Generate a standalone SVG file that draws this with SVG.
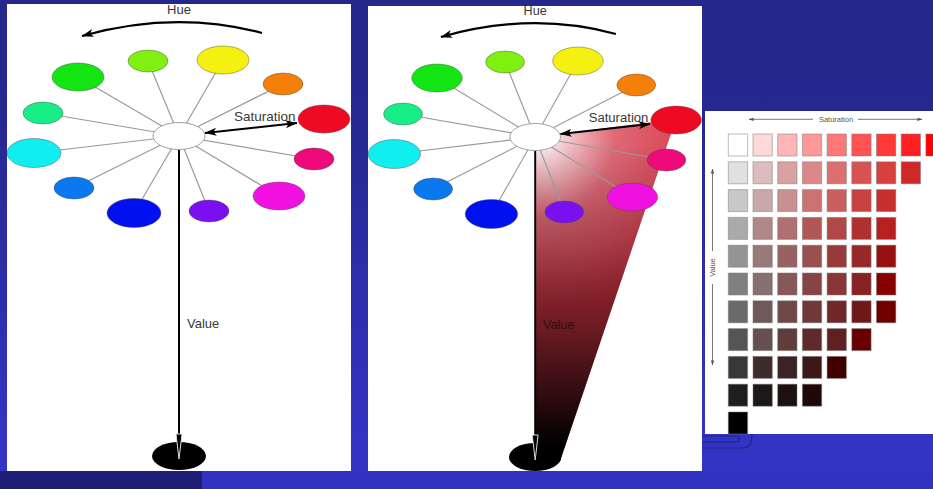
<svg xmlns="http://www.w3.org/2000/svg" width="933" height="489" viewBox="0 0 933 489">
<style>
.txt{font-family:"Liberation Sans",Arial,sans-serif;fill:#383838}
.spoke{stroke:#9a9a9a;stroke-width:1.2;fill:none}
.ell{stroke:#4a4a4a;stroke-opacity:0.55;stroke-width:0.8}
.sq{stroke:#7a7a7a;stroke-opacity:0.5;stroke-width:1}
.ax{stroke:#555;stroke-width:0.8;fill:none}
</style>
<defs>
<linearGradient id="bg" x1="0" y1="0" x2="0" y2="1">
<stop offset="0" stop-color="#25278c"/>
<stop offset="0.25" stop-color="#26288f"/>
<stop offset="0.9" stop-color="#3333c4"/>
</linearGradient>
<radialGradient id="wedgeSat" gradientUnits="userSpaceOnUse" cx="538" cy="140" r="170">
<stop offset="0" stop-color="#ffffff"/>
<stop offset="0.14" stop-color="#f6d0d4"/>
<stop offset="0.45" stop-color="#e06a78"/>
<stop offset="1" stop-color="#d83444"/>
</radialGradient>
<linearGradient id="wedgeVal" gradientUnits="userSpaceOnUse" x1="0" y1="140" x2="0" y2="445">
<stop offset="0" stop-color="#000" stop-opacity="0"/>
<stop offset="0.36" stop-color="#000" stop-opacity="0.25"/>
<stop offset="0.62" stop-color="#000" stop-opacity="0.5"/>
<stop offset="0.85" stop-color="#000" stop-opacity="0.8"/>
<stop offset="1" stop-color="#000" stop-opacity="1"/>
</linearGradient>
<marker id="ah" viewBox="0 0 12 8" refX="11.5" refY="4" markerWidth="12" markerHeight="8" markerUnits="userSpaceOnUse" orient="auto-start-reverse">
<path d="M0,0 L12,4 L0,8 L3,4 Z" fill="#000"/>
</marker>
<marker id="ahs" viewBox="0 0 6 4" refX="5.5" refY="2" markerWidth="5" markerHeight="3.4" markerUnits="userSpaceOnUse" orient="auto-start-reverse">
<path d="M0,0 L6,2 L0,4 Z" fill="#555"/>
</marker>
</defs>

<!-- background -->
<rect x="0" y="0" width="933" height="489" fill="url(#bg)"/>
<rect x="0" y="471" width="202" height="18" fill="#1f1f78"/>
<rect x="202" y="471" width="731" height="18" fill="#3232c2"/>
<path d="M702 448 H743 Q752 448 752 434 M702 436 H736 Q739.5 436 739.5 439 Q739.5 442 736 442 H702" fill="none" stroke="#22227e" stroke-width="1.2"/>

<!-- panels -->
<rect id="panel-left" x="7" y="4" width="344" height="467" fill="#fff"/>
<rect id="panel-middle" x="368" y="6" width="334" height="465" fill="#fff"/>
<rect id="panel-right" x="705" y="111" width="228" height="323" fill="#fff"/>

<!-- ===== LEFT WHEEL ===== -->
<g id="left-wheel">
<g id="left-connectors">
<line class="spoke" x1="179" y1="136" x2="78" y2="77"/>
<line class="spoke" x1="179" y1="136" x2="148" y2="61"/>
<line class="spoke" x1="179" y1="136" x2="223" y2="60"/>
<line class="spoke" x1="179" y1="136" x2="283" y2="84"/>
<line class="spoke" x1="179" y1="136" x2="314" y2="159"/>
<line class="spoke" x1="179" y1="136" x2="279" y2="196"/>
<line class="spoke" x1="179" y1="136" x2="209" y2="211"/>
<line class="spoke" x1="179" y1="136" x2="134" y2="213"/>
<line class="spoke" x1="179" y1="136" x2="74" y2="188"/>
<line class="spoke" x1="179" y1="136" x2="34" y2="153"/>
<line class="spoke" x1="179" y1="136" x2="43" y2="113"/>
<path id="left-hue-arrow" d="M262,33 Q175,10 82,36" fill="none" stroke="#000" stroke-width="2.2" marker-end="url(#ah)"/>
<line id="left-value-line" x1="179" y1="149" x2="179" y2="440" stroke="#000" stroke-width="2"/>
</g>
<g id="left-green"><ellipse class="ell" cx="78" cy="77" rx="26" ry="14" fill="#12e512"/></g>
<g id="left-chartreuse"><ellipse class="ell" cx="148" cy="61" rx="20" ry="11" fill="#80f010"/></g>
<g id="left-yellow"><ellipse class="ell" cx="223" cy="60" rx="26" ry="14" fill="#f4f010"/></g>
<g id="left-orange"><ellipse class="ell" cx="283" cy="84" rx="20" ry="11" fill="#f58008"/></g>
<g id="left-red"><ellipse class="ell" cx="324" cy="119" rx="26" ry="14" fill="#ee0a22"/></g>
<g id="left-pink"><ellipse class="ell" cx="314" cy="159" rx="20" ry="11" fill="#ee0a78"/></g>
<g id="left-magenta"><ellipse class="ell" cx="279" cy="196" rx="26" ry="14" fill="#f010e0"/></g>
<g id="left-violet"><ellipse class="ell" cx="209" cy="211" rx="20" ry="11" fill="#7a10f0"/></g>
<g id="left-blue"><ellipse class="ell" cx="134" cy="213" rx="27" ry="14.5" fill="#0010ee"/></g>
<g id="left-azure"><ellipse class="ell" cx="74" cy="188" rx="20" ry="11" fill="#0a78ee"/></g>
<g id="left-cyan"><ellipse class="ell" cx="34" cy="153" rx="27" ry="14.5" fill="#10eef0"/></g>
<g id="left-spring"><ellipse class="ell" cx="43" cy="113" rx="20" ry="11" fill="#18ee88"/></g>
<g id="left-center"><ellipse cx="179" cy="136" rx="26" ry="13.5" fill="#fff" stroke="#a0a0a0" stroke-width="1"/></g>
<g id="left-black"><ellipse cx="179" cy="456" rx="27" ry="14" fill="#000"/></g>
<line id="left-sat-arrow" x1="205" y1="133" x2="297" y2="123" stroke="#000" stroke-width="2" marker-start="url(#ah)" marker-end="url(#ah)"/>
<polygon points="176,434 182,434 179,459" fill="#000" stroke="#ddd" stroke-width="1"/>
<text class="txt" x="179" y="14" font-size="13" text-anchor="middle">Hue</text>
<text class="txt" x="234" y="121" font-size="13.5">Saturation</text>
<text class="txt" x="187" y="328" font-size="13">Value</text>
</g>

<!-- ===== MIDDLE WHEEL ===== -->
<g id="middle-wedge">
<path d="M535.2,137 L676,119 L561.4,457 L535.2,457 Z" fill="url(#wedgeSat)"/>
<path d="M535.2,137 L676,119 L561.4,457 L535.2,457 Z" fill="url(#wedgeVal)"/>
</g>
<g id="middle-wheel" transform="matrix(0.972 0 0 1 361.2 1)">
<g id="middle-connectors">
<line class="spoke" x1="179" y1="136" x2="78" y2="77"/>
<line class="spoke" x1="179" y1="136" x2="148" y2="61"/>
<line class="spoke" x1="179" y1="136" x2="223" y2="60"/>
<line class="spoke" x1="179" y1="136" x2="283" y2="84"/>
<line class="spoke" x1="179" y1="136" x2="314" y2="159" stroke="#6a4a4e"/>
<line class="spoke" x1="179" y1="136" x2="279" y2="196" stroke="#6a4a4e"/>
<line class="spoke" x1="179" y1="136" x2="209" y2="211" stroke="#6a4a4e"/>
<line class="spoke" x1="179" y1="136" x2="134" y2="213"/>
<line class="spoke" x1="179" y1="136" x2="74" y2="188"/>
<line class="spoke" x1="179" y1="136" x2="34" y2="153"/>
<line class="spoke" x1="179" y1="136" x2="43" y2="113"/>
<path id="middle-hue-arrow" d="M262,33 Q175,10 82,36" fill="none" stroke="#000" stroke-width="2.2" marker-end="url(#ah)"/>
<line id="middle-value-line" x1="179" y1="149" x2="179" y2="440" stroke="#000" stroke-width="2"/>
</g>
<g id="middle-green"><ellipse class="ell" cx="78" cy="77" rx="26" ry="14" fill="#12e512"/></g>
<g id="middle-chartreuse"><ellipse class="ell" cx="148" cy="61" rx="20" ry="11" fill="#80f010"/></g>
<g id="middle-yellow"><ellipse class="ell" cx="223" cy="60" rx="26" ry="14" fill="#f4f010"/></g>
<g id="middle-orange"><ellipse class="ell" cx="283" cy="84" rx="20" ry="11" fill="#f58008"/></g>
<g id="middle-red"><ellipse class="ell" cx="324" cy="119" rx="26" ry="14" fill="#ee0a22"/></g>
<g id="middle-pink"><ellipse class="ell" cx="314" cy="159" rx="20" ry="11" fill="#ee0a78"/></g>
<g id="middle-magenta"><ellipse class="ell" cx="279" cy="196" rx="26" ry="14" fill="#f010e0"/></g>
<g id="middle-violet"><ellipse class="ell" cx="209" cy="211" rx="20" ry="11" fill="#7a10f0"/></g>
<g id="middle-blue"><ellipse class="ell" cx="134" cy="213" rx="27" ry="14.5" fill="#0010ee"/></g>
<g id="middle-azure"><ellipse class="ell" cx="74" cy="188" rx="20" ry="11" fill="#0a78ee"/></g>
<g id="middle-cyan"><ellipse class="ell" cx="34" cy="153" rx="27" ry="14.5" fill="#10eef0"/></g>
<g id="middle-spring"><ellipse class="ell" cx="43" cy="113" rx="20" ry="11" fill="#18ee88"/></g>
<g id="middle-center"><ellipse cx="179" cy="136" rx="26" ry="13.5" fill="#fff" stroke="#a0a0a0" stroke-width="1"/></g>
<g id="middle-black"><ellipse cx="179" cy="456" rx="27" ry="14" fill="#000"/></g>
<line id="middle-sat-arrow" x1="205" y1="133" x2="297" y2="123" stroke="#000" stroke-width="2" marker-start="url(#ah)" marker-end="url(#ah)"/>
<polygon points="176,434 182,434 179,459" fill="#000" stroke="#ddd" stroke-width="1"/>
<text class="txt" x="179" y="14" font-size="13" text-anchor="middle">Hue</text>
<text class="txt" x="234" y="121" font-size="13.5">Saturation</text>
<text class="txt" x="187" y="328" font-size="13" style="fill:#2a1012">Value</text>
</g>

<!-- ===== RIGHT CHART ===== -->
<g id="right-chart">
<line class="ax" x1="749" y1="119.3" x2="813" y2="119.3" marker-start="url(#ahs)"/>
<line class="ax" x1="858" y1="119.3" x2="922" y2="119.3" marker-end="url(#ahs)"/>
<text class="txt" x="836" y="121.5" font-size="7.5" text-anchor="middle" style="fill:#555">Saturation</text>
<line class="ax" x1="712.5" y1="169" x2="712.5" y2="251" marker-start="url(#ahs)"/>
<line class="ax" x1="712.5" y1="284" x2="712.5" y2="365" marker-end="url(#ahs)"/>
<text class="txt" transform="translate(715,267.5) rotate(-90)" font-size="7.5" text-anchor="middle" style="fill:#555">Value</text>
<g id="swatches">
<rect class="sq" x="728.3" y="134" width="19.3" height="22" fill="#ffffff"/>
<rect class="sq" x="753" y="134" width="19.3" height="22" fill="#ffd8d8"/>
<rect class="sq" x="777.7" y="134" width="19.3" height="22" fill="#ffb6b6"/>
<rect class="sq" x="802.4" y="134" width="19.3" height="22" fill="#ff9898"/>
<rect class="sq" x="827.1" y="134" width="19.3" height="22" fill="#ff7878"/>
<rect class="sq" x="851.8" y="134" width="19.3" height="22" fill="#ff5252"/>
<rect class="sq" x="876.5" y="134" width="19.3" height="22" fill="#ff3838"/>
<rect class="sq" x="901.2" y="134" width="19.3" height="22" fill="#ff2020"/>
<rect class="sq" x="925.9" y="134" width="19.3" height="22" fill="#ff0000"/>

<rect class="sq" x="728.3" y="161.8" width="19.3" height="22" fill="#e0e0e0"/>
<rect class="sq" x="753" y="161.8" width="19.3" height="22" fill="#dcbcbc"/>
<rect class="sq" x="777.7" y="161.8" width="19.3" height="22" fill="#d8a2a2"/>
<rect class="sq" x="802.4" y="161.8" width="19.3" height="22" fill="#dc8888"/>
<rect class="sq" x="827.1" y="161.8" width="19.3" height="22" fill="#dc7070"/>
<rect class="sq" x="851.8" y="161.8" width="19.3" height="22" fill="#d85252"/>
<rect class="sq" x="876.5" y="161.8" width="19.3" height="22" fill="#d84040"/>
<rect class="sq" x="901.2" y="161.8" width="19.3" height="22" fill="#d02828"/>

<rect class="sq" x="728.3" y="189.6" width="19.3" height="22" fill="#c8c8c8"/>
<rect class="sq" x="753" y="189.6" width="19.3" height="22" fill="#c8a8a8"/>
<rect class="sq" x="777.7" y="189.6" width="19.3" height="22" fill="#c89090"/>
<rect class="sq" x="802.4" y="189.6" width="19.3" height="22" fill="#cc7272"/>
<rect class="sq" x="827.1" y="189.6" width="19.3" height="22" fill="#c86060"/>
<rect class="sq" x="851.8" y="189.6" width="19.3" height="22" fill="#c84242"/>
<rect class="sq" x="876.5" y="189.6" width="19.3" height="22" fill="#c83030"/>

<rect class="sq" x="728.3" y="217.4" width="19.3" height="22" fill="#aaaaaa"/>
<rect class="sq" x="753" y="217.4" width="19.3" height="22" fill="#b08888"/>
<rect class="sq" x="777.7" y="217.4" width="19.3" height="22" fill="#b07070"/>
<rect class="sq" x="802.4" y="217.4" width="19.3" height="22" fill="#b05858"/>
<rect class="sq" x="827.1" y="217.4" width="19.3" height="22" fill="#b04848"/>
<rect class="sq" x="851.8" y="217.4" width="19.3" height="22" fill="#b03030"/>
<rect class="sq" x="876.5" y="217.4" width="19.3" height="22" fill="#b82020"/>

<rect class="sq" x="728.3" y="245.2" width="19.3" height="22" fill="#949494"/>
<rect class="sq" x="753" y="245.2" width="19.3" height="22" fill="#987a7a"/>
<rect class="sq" x="777.7" y="245.2" width="19.3" height="22" fill="#986262"/>
<rect class="sq" x="802.4" y="245.2" width="19.3" height="22" fill="#985050"/>
<rect class="sq" x="827.1" y="245.2" width="19.3" height="22" fill="#983a3a"/>
<rect class="sq" x="851.8" y="245.2" width="19.3" height="22" fill="#982828"/>
<rect class="sq" x="876.5" y="245.2" width="19.3" height="22" fill="#981010"/>

<rect class="sq" x="728.3" y="273" width="19.3" height="22" fill="#808080"/>
<rect class="sq" x="753" y="273" width="19.3" height="22" fill="#887070"/>
<rect class="sq" x="777.7" y="273" width="19.3" height="22" fill="#885858"/>
<rect class="sq" x="802.4" y="273" width="19.3" height="22" fill="#884444"/>
<rect class="sq" x="827.1" y="273" width="19.3" height="22" fill="#883636"/>
<rect class="sq" x="851.8" y="273" width="19.3" height="22" fill="#882222"/>
<rect class="sq" x="876.5" y="273" width="19.3" height="22" fill="#880000"/>

<rect class="sq" x="728.3" y="300.8" width="19.3" height="22" fill="#6a6a6a"/>
<rect class="sq" x="753" y="300.8" width="19.3" height="22" fill="#705858"/>
<rect class="sq" x="777.7" y="300.8" width="19.3" height="22" fill="#704848"/>
<rect class="sq" x="802.4" y="300.8" width="19.3" height="22" fill="#703838"/>
<rect class="sq" x="827.1" y="300.8" width="19.3" height="22" fill="#702828"/>
<rect class="sq" x="851.8" y="300.8" width="19.3" height="22" fill="#701818"/>
<rect class="sq" x="876.5" y="300.8" width="19.3" height="22" fill="#700000"/>

<rect class="sq" x="728.3" y="328.6" width="19.3" height="22" fill="#555555"/>
<rect class="sq" x="753" y="328.6" width="19.3" height="22" fill="#645050"/>
<rect class="sq" x="777.7" y="328.6" width="19.3" height="22" fill="#603c3c"/>
<rect class="sq" x="802.4" y="328.6" width="19.3" height="22" fill="#602a2a"/>
<rect class="sq" x="827.1" y="328.6" width="19.3" height="22" fill="#602020"/>
<rect class="sq" x="851.8" y="328.6" width="19.3" height="22" fill="#680000"/>

<rect class="sq" x="728.3" y="356.4" width="19.3" height="22" fill="#383838"/>
<rect class="sq" x="753" y="356.4" width="19.3" height="22" fill="#3c2c2c"/>
<rect class="sq" x="777.7" y="356.4" width="19.3" height="22" fill="#3c2222"/>
<rect class="sq" x="802.4" y="356.4" width="19.3" height="22" fill="#3c1818"/>
<rect class="sq" x="827.1" y="356.4" width="19.3" height="22" fill="#400000"/>

<rect class="sq" x="728.3" y="384.2" width="19.3" height="22" fill="#1e1e1e"/>
<rect class="sq" x="753" y="384.2" width="19.3" height="22" fill="#1c1818"/>
<rect class="sq" x="777.7" y="384.2" width="19.3" height="22" fill="#1c1010"/>
<rect class="sq" x="802.4" y="384.2" width="19.3" height="22" fill="#200808"/>

<rect class="sq" x="728.3" y="412" width="19.3" height="22" fill="#000000"/>
</g>
</g>
</svg>
